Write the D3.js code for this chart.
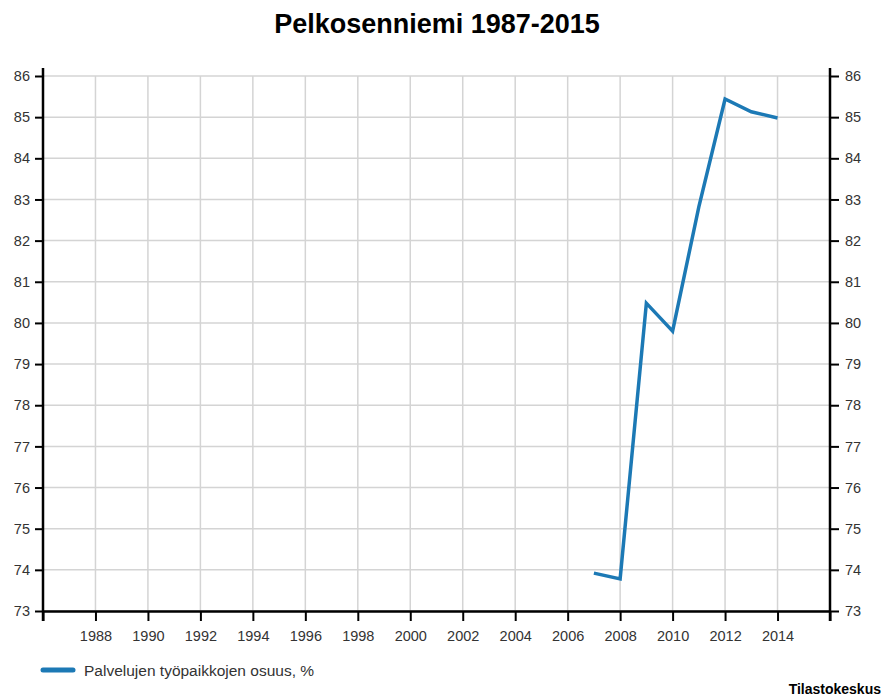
<!DOCTYPE html>
<html>
<head>
<meta charset="utf-8">
<script src="https://cdn.jsdelivr.net/npm/d3@7"></script>
<style>
  body { margin: 0; background: #fff; font-family: "Liberation Sans", Arial, sans-serif; }
  .axis text { font-size: 14.5px; fill: #333; }
</style>
</head>
<body>
<div id="chart"></div>
<script>
var years = [2007, 2008, 2009, 2010, 2011, 2012, 2013, 2014];
var values = [73.92, 73.78, 80.48, 79.8, 82.82, 85.44, 85.13, 84.98];
var yTicks = [73, 74, 75, 76, 77, 78, 79, 80, 81, 82, 83, 84, 85, 86];
var xLabels = [1988, 1990, 1992, 1994, 1996, 1998, 2000, 2002, 2004, 2006, 2008, 2010, 2012, 2014];
var xTicks = [1986].concat(xLabels, [2016]);

var W = 892, H = 697;
var margin = { top: 76, right: 62, bottom: 86, left: 43 };

var svg = d3.select("#chart").append("svg").attr("width", W).attr("height", H);

var x = d3.scaleLinear().domain([1986, 2016]).range([margin.left, W - margin.right]);
var y = d3.scaleLinear().domain([73, 86]).range([H - margin.bottom, margin.top]);

// grid
svg.append("g").selectAll("line").data(yTicks).enter().append("line")
  .attr("x1", x(1986)).attr("x2", x(2016))
  .attr("y1", function (d) { return y(d); }).attr("y2", function (d) { return y(d); })
  .attr("stroke", "#d4d4d4").attr("stroke-width", 1.5);
svg.append("g").selectAll("line").data(xLabels).enter().append("line")
  .attr("x1", function (d) { return x(d); }).attr("x2", function (d) { return x(d); })
  .attr("y1", y(73)).attr("y2", y(86))
  .attr("stroke", "#d4d4d4").attr("stroke-width", 1.5);

// axes
var left = svg.append("g").attr("class", "axis")
  .attr("transform", "translate(" + x(1986) + ",0)")
  .call(d3.axisLeft(y).tickValues(yTicks).tickFormat(d3.format("d")).tickSize(8).tickPadding(5).tickSizeOuter(0));
var right = svg.append("g").attr("class", "axis")
  .attr("transform", "translate(" + x(2016) + ",0)")
  .call(d3.axisRight(y).tickValues(yTicks).tickFormat(d3.format("d")).tickSize(9).tickPadding(6).tickSizeOuter(0));
var bottom = svg.append("g").attr("class", "axis")
  .attr("transform", "translate(0," + y(73) + ")")
  .call(d3.axisBottom(x).tickValues(xTicks)
    .tickFormat(function (d) { return (d === 1986 || d === 2016) ? "" : d; })
    .tickSize(10).tickPadding(10).tickSizeOuter(0));

[left, right, bottom].forEach(function (g) {
  g.select(".domain").attr("stroke", "#000").attr("stroke-width", 2.5);
  g.selectAll(".tick line").attr("stroke", "#000").attr("stroke-width", 2);
});
left.select(".domain").attr("d", "M0," + (y(86) - 8) + "V" + (y(73) + 10));
right.select(".domain").attr("d", "M0," + (y(86) - 8) + "V" + (y(73) + 10));

// line
var line = d3.line()
  .x(function (d, i) { return x(years[i]); })
  .y(function (d) { return y(d); });
svg.append("path").datum(values)
  .attr("d", line)
  .attr("fill", "none")
  .attr("stroke", "#1c79b5")
  .attr("stroke-width", 3.5)
  .attr("stroke-linejoin", "miter");

// title
svg.append("text").attr("x", 437).attr("y", 33)
  .attr("text-anchor", "middle")
  .attr("font-size", 27).attr("font-weight", "bold").attr("fill", "#000")
  .text("Pelkosenniemi 1987-2015");

// legend
svg.append("line").attr("x1", 43).attr("x2", 73).attr("y1", 670).attr("y2", 670)
  .attr("stroke", "#1c79b5").attr("stroke-width", 5).attr("stroke-linecap", "round");
svg.append("text").attr("x", 84).attr("y", 675.5)
  .attr("font-size", 15.5).attr("fill", "#333")
  .text("Palvelujen työpaikkojen osuus, %");

svg.append("text").attr("x", 881).attr("y", 694)
  .attr("text-anchor", "end")
  .attr("font-size", 14).attr("font-weight", "bold").attr("fill", "#000")
  .text("Tilastokeskus");
</script>
</body>
</html>
